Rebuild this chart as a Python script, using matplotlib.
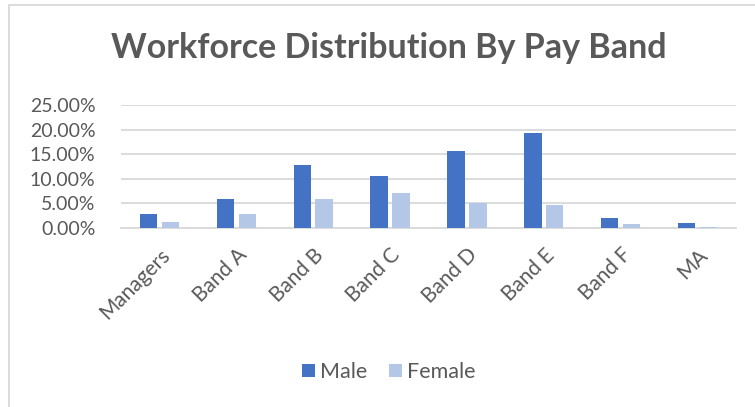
import matplotlib
matplotlib.use("Agg")
import matplotlib.pyplot as plt
import numpy as np
from matplotlib.patches import Rectangle
from matplotlib.ticker import FuncFormatter

# values
categories = ["Managers", "Band A", "Band B", "Band C", "Band D", "Band E", "Band F", "MA"]
male = [2.9, 5.9, 12.9, 10.6, 15.7, 19.3, 2.1, 1.1]
female = [1.2, 2.9, 5.9, 7.1, 5.0, 4.6, 0.9, 0.3]
y_ticks = [0, 5, 10, 15, 20, 25]

MALE_COLOR = "#4472C4"
FEMALE_COLOR = "#B4C7E7"
TEXT_COLOR = "#595959"
GRID_COLOR = "#D9D9D9"

plt.rcParams['font.family'] = ['Lato', 'DejaVu Sans']


def main():
    fig = plt.figure(figsize=(7.55, 4.07), dpi=100)
    ax = fig.add_axes([121 / 755, 1 - 228 / 407, (736 - 121) / 755, (228 - 105) / 407])

    x = np.arange(len(categories))
    width = 0.225
    offset = 0.142
    ax.bar(x - offset, male, width, color=MALE_COLOR, label="Male", zorder=3)
    ax.bar(x + offset, female, width, color=FEMALE_COLOR, label="Female", zorder=3)

    ax.set_xlim(-0.5, len(categories) - 0.5)
    ax.set_ylim(0, 25)
    ax.set_yticks(y_ticks)
    ax.yaxis.set_major_formatter(FuncFormatter(lambda v, _: f"{v:.2f}%"))
    ax.grid(axis="y", color=GRID_COLOR, linewidth=1.3, zorder=0)

    ax.set_xticks(x)
    ax.set_xticklabels(categories, rotation=45, ha="right", rotation_mode="anchor")
    ax.tick_params(axis="both", length=0, colors=TEXT_COLOR)
    ax.tick_params(axis="y", pad=18.5, labelsize=14)
    ax.tick_params(axis="x", pad=12, labelsize=15)
    for side in ["top", "right", "left"]:
        ax.spines[side].set_visible(False)
    ax.spines["bottom"].set_color(GRID_COLOR)
    ax.spines["bottom"].set_linewidth(1.3)

    fig.text(389 / 755, 1 - 48 / 407, "Workforce Distribution By Pay Band",
             ha="center", va="center", fontsize=24.5, fontweight="bold", color=TEXT_COLOR)

    leg = fig.legend(loc="center", bbox_to_anchor=(389 / 755, 1 - 372 / 407), ncol=2,
                     frameon=False, fontsize=15.5, handlelength=0.6, handleheight=0.6,
                     handletextpad=0.25, columnspacing=1.0)
    for t in leg.get_texts():
        t.set_color(TEXT_COLOR)

    # light chart-area border (runs off the right/bottom edge like the reference)
    fig.patches.append(Rectangle((9 / 755, -0.1), 1.2, 1.1 - 5 / 407,
                                 transform=fig.transFigure, fill=False,
                                 edgecolor=GRID_COLOR, linewidth=1.3))

    fig.savefig("out.png", dpi=100)


if __name__ == "__main__":
    main()
